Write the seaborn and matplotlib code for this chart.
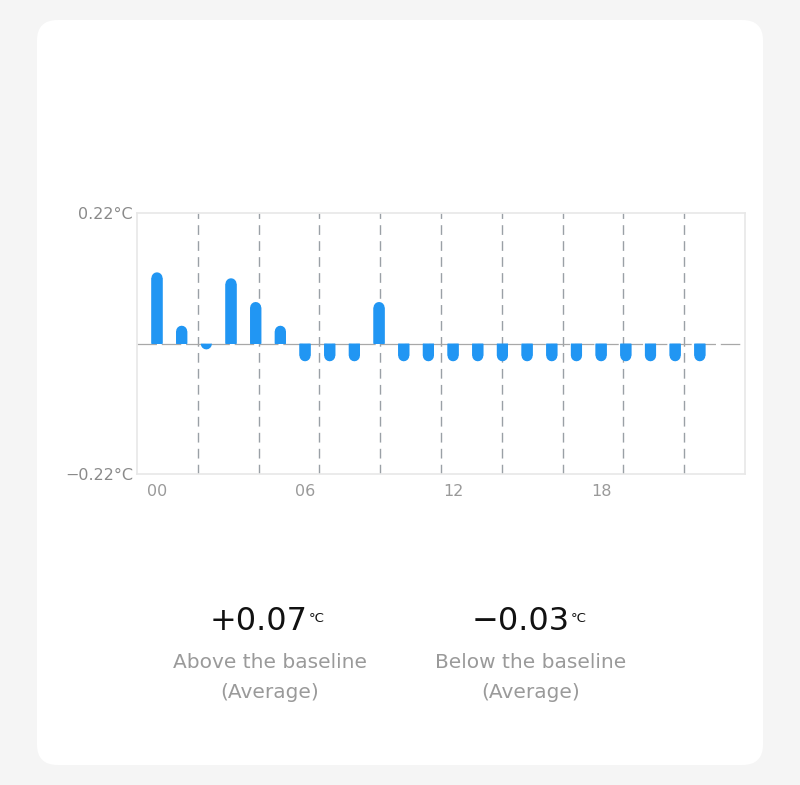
import seaborn as sns
import matplotlib.pyplot as plt
from matplotlib.patches import FancyBboxPatch, Rectangle

# hourly deviation from baseline (°C)
hours = ["00", "01", "02", "03", "04", "05", "06", "07", "08", "09", "10", "11",
         "12", "13", "14", "15", "16", "17", "18", "19", "20", "21", "22"]
values = [0.12, 0.03, -0.01, 0.11, 0.07, 0.03, -0.03, -0.03, -0.03, 0.07, -0.03, -0.03,
          -0.03, -0.03, -0.03, -0.03, -0.03, -0.03, -0.03, -0.03, -0.03, -0.03, -0.03]
tick_hours = ["00", "06", "12", "18"]
y_limits = [-0.22, 0.22]
y_labels = ["\u22120.22°C", "0.22°C"]

BLUE = "#2196F3"
sns.set_style("white")
plt.rcParams["font.family"] = ["DejaVu Sans"]
plt.rcParams["lines.scale_dashes"] = False

fig = plt.figure(figsize=(8, 7.85), dpi=100)
fig.patch.set_facecolor("#f5f5f5")

# white rounded card
card = FancyBboxPatch((37 / 800, 1 - 765 / 785), 726 / 800, 745 / 785,
                      boxstyle="round,pad=0,rounding_size=0.026",
                      transform=fig.transFigure, facecolor="white",
                      edgecolor="none", zorder=-1)
fig.patches.append(card)

ax = fig.add_axes([137 / 800, 1 - 474 / 785, 608 / 800, 261 / 785])
ax.set_zorder(2)
ax.set_facecolor("white")

sns.barplot(x=hours, y=values, color=BLUE, saturation=1, width=0.45, ax=ax,
            linewidth=0, edgecolor=BLUE, zorder=3)

ax.set_xlim(-0.81, 23.83)
ax.set_ylim(*y_limits)

# vertical dashed grid, 10 equal bands
for f in [0.1, 0.2, 0.3, 0.4, 0.5, 0.6, 0.7, 0.8, 0.9]:
    ax.axvline(f * (23.83 + 0.81) - 0.81, color="#9aa0a6", lw=1.0,
               linestyle=(0, (7, 4.5)), zorder=1)
ax.axhline(0, color="#a8a8a8", lw=0.9, linestyle=(0, (14, 3.5)), zorder=2)

# rounded tips: the seaborn bar is shortened by the cap radius and a
# round-capped stroke of the same width, clipped at zero, finishes it
fig.canvas.draw()
bw = ax.patches[0].get_width()
p0 = ax.transData.transform((0, 0))
w_px = ax.transData.transform((bw, 0))[0] - p0[0]
py_unit = ax.transData.transform((0, 1))[1] - p0[1]
r = (w_px / 2) / py_unit
lw_pt = w_px * 72 / fig.dpi
for patch, v in zip(ax.patches, values):
    s = 1 if v > 0 else -1
    h = max(abs(v) - r, 0)
    patch.set_snap(False)
    patch.set_y(0)
    patch.set_height(s * h)
    xc = patch.get_x() + bw / 2
    ln, = ax.plot([xc, xc], [0, s * h], color=BLUE, lw=lw_pt,
                  solid_capstyle="round", zorder=3)
    ln.set_snap(False)
    clip = Rectangle((xc - 1, 0), 2, s * 0.5, transform=ax.transData)
    ln.set_clip_path(clip)

ax.set_xticks([hours.index(t) for t in tick_hours])
ax.set_xticklabels(tick_hours)
ax.set_yticks(y_limits)
ax.set_yticklabels(y_labels)
ax.tick_params(axis="x", length=0, pad=7, labelsize=11.5, labelcolor="#9a9a9a")
ax.tick_params(axis="y", length=0, pad=3, labelsize=11.5, labelcolor="#8a8a8a")
for sp in ax.spines.values():
    sp.set_color("#e8e8e8")
    sp.set_linewidth(1.2)
ax.set_xlabel("")
ax.set_ylabel("")

# summary figures
pos = [v for v in values if v > 0]
neg = [v for v in values if v < 0]
above = sum(pos) / len(pos)
below = sum(neg) / len(neg)
summaries = [(f"+{above:.2f}", 308, 270, "Above the baseline"),
             (f"\u2212{abs(below):.2f}", 570, 531, "Below the baseline")]
for num, xr, xc, label in summaries:
    fig.text(xr / 800, 1 - 622 / 785, num, ha="right", va="center",
             fontsize=23, color="#111111")
    fig.text((xr + 1) / 800, 1 - 619 / 785, "°C", ha="left", va="center",
             fontsize=9.5, color="#111111")
    fig.text(xc / 800, 1 - 662 / 785, label, ha="center", va="center",
             fontsize=14.5, color="#9a9a9a")
    fig.text(xc / 800, 1 - 692 / 785, "(Average)", ha="center", va="center",
             fontsize=14.5, color="#9a9a9a")

fig.savefig("out.png", dpi=100, facecolor=fig.get_facecolor())
plt.close(fig)
